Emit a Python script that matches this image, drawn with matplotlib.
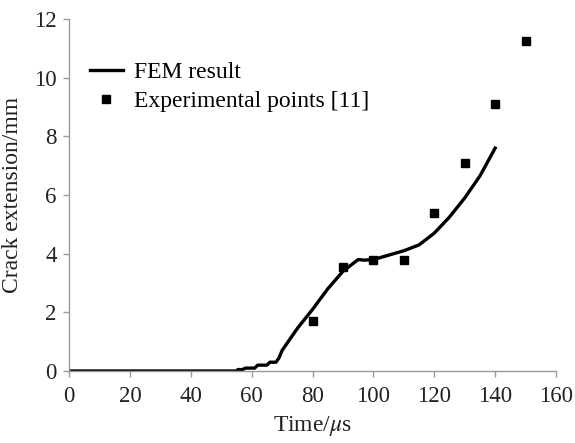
import matplotlib
matplotlib.use("Agg")
import matplotlib.pyplot as plt

fem_t = [0, 55, 55.5, 57, 58, 61, 62, 65, 66, 68, 69, 70, 75, 80, 85, 90, 95, 97,
         100, 105, 110, 115, 120, 125, 130, 135, 140]
fem_y = [0, 0, 0.05, 0.05, 0.1, 0.1, 0.2, 0.2, 0.3, 0.3, 0.45, 0.7, 1.45, 2.1, 2.8,
         3.4, 3.8, 3.78, 3.8, 3.95, 4.1, 4.3, 4.7, 5.25, 5.9, 6.65, 7.6]

exp_t = [80, 90, 100, 110, 120, 130, 140, 150]
exp_y = [1.7, 3.55, 3.78, 3.8, 5.4, 7.1, 9.1, 11.25]

xticks = [0, 20, 40, 60, 80, 100, 120, 140, 160]
yticks = [0, 2, 4, 6, 8, 10, 12]

plt.rcParams['font.family'] = ['Liberation Serif', 'DejaVu Serif']
plt.rcParams['mathtext.fontset'] = 'stix'

fig = plt.figure(figsize=(5.75, 4.43), dpi=100)
ax = fig.add_axes([0.12, 0.1625, 0.847, 0.7945])

ax.plot(fem_t, fem_y, color='black', lw=2.4, label='FEM result')
ax.plot(exp_t, exp_y, 's', color='black', markersize=6, label='Experimental points [11]')

ax.set_xlim(0, 160)
ax.set_ylim(0, 12)
ax.set_xticks(xticks)
ax.set_yticks(yticks)
for s in ['top', 'right']:
    ax.spines[s].set_visible(False)
for s in ['left', 'bottom']:
    ax.spines[s].set_color('#999999')
    ax.spines[s].set_linewidth(1.0)
ax.tick_params(direction='out', length=4, width=1.0, color='#999999', labelsize=16.5,
               labelcolor='#222222', pad=5)
ax.tick_params(axis='x', pad=7)
ax.set_xlabel(r'Time/$\mu$s', fontsize=17, color='#222222', labelpad=5)
ax.set_ylabel('Crack extension/mm', fontsize=17, color='#222222', labelpad=8)

ax.legend(loc='upper left', bbox_to_anchor=(0.043, 0.88), frameon=False, fontsize=17,
          handlelength=1.4, handletextpad=0.45, labelspacing=0.33, borderaxespad=0,
          borderpad=0)

fig.savefig('out.png', dpi=100)
